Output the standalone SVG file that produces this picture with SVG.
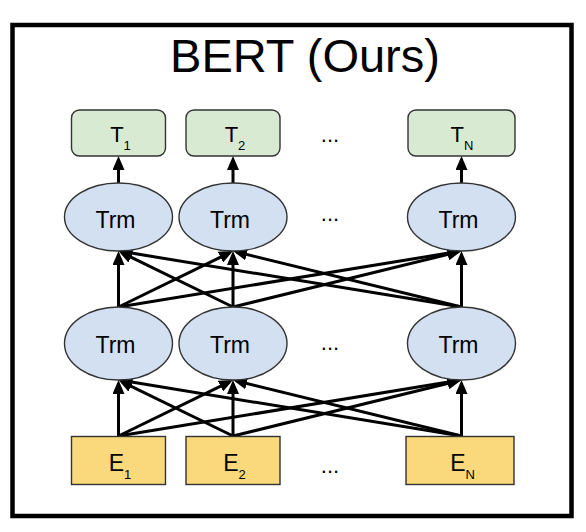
<svg xmlns="http://www.w3.org/2000/svg" width="586" height="532" viewBox="0 0 586 532">
<style>
text{font-family:"Liberation Sans",Arial,sans-serif;fill:#000}
.tbox{fill:#d9ead3;stroke:#333;stroke-width:1.4}
.ebox{fill:#f9d97b;stroke:#333;stroke-width:1.4}
.trm{fill:#d3e0f1;stroke:#333;stroke-width:1.4}
.lbl{font-size:23px;text-anchor:middle}
.tlbl{font-size:22px;text-anchor:middle}
.elbl{font-size:23px;text-anchor:middle}
.dots{font-size:22px;text-anchor:middle}
.c line{stroke:#000;stroke-width:3;marker-end:url(#ah)}
</style>
<defs>
<marker id="ah" viewBox="0 0 14 12" refX="10" refY="6" markerWidth="14" markerHeight="12" markerUnits="userSpaceOnUse" orient="auto">
<path d="M0,0 L14,6 L0,12 z" fill="#000"/>
</marker>
</defs>
<rect x="0" y="0" width="586" height="532" fill="#fff"/>
<rect id="frame" x="12.5" y="25" width="559" height="491" fill="#fff" stroke="#000" stroke-width="4.5"/>
<text id="title" x="305" y="72" font-size="47" text-anchor="middle">BERT (Ours)</text>

<g class="c" id="connectors">
<line x1="118.5" y1="436" x2="118.5" y2="384"/>
<line x1="118.5" y1="436" x2="229.4" y2="381.8"/>
<line x1="118.5" y1="436" x2="457.55" y2="380.6"/>
<line x1="233" y1="436" x2="122.1" y2="381.8"/>
<line x1="233" y1="436" x2="233" y2="384"/>
<line x1="233" y1="436" x2="457.6" y2="381"/>
<line x1="461.5" y1="436" x2="122.45" y2="380.6"/>
<line x1="461.5" y1="436" x2="236.9" y2="381"/>
<line x1="461.5" y1="436" x2="461.5" y2="384"/>
<line x1="118.5" y1="307" x2="118.5" y2="255"/>
<line x1="118.5" y1="307" x2="229.4" y2="252.8"/>
<line x1="118.5" y1="307" x2="457.55" y2="251.6"/>
<line x1="233" y1="307" x2="122.1" y2="252.8"/>
<line x1="233" y1="307" x2="233" y2="255"/>
<line x1="233" y1="307" x2="457.6" y2="252"/>
<line x1="461.5" y1="307" x2="122.45" y2="251.6"/>
<line x1="461.5" y1="307" x2="236.9" y2="252"/>
<line x1="461.5" y1="307" x2="461.5" y2="255"/>
<line x1="118.5" y1="183" x2="118.5" y2="160"/>
<line x1="233" y1="183" x2="233" y2="160"/>
<line x1="461.5" y1="183" x2="461.5" y2="160"/>
</g>

<g id="T1"><rect class="tbox" x="71.5" y="110" width="94" height="46" rx="8"/><text class="tlbl" x="120.5" y="142">T<tspan font-size="13" dy="7.5">1</tspan></text></g>
<g id="T2"><rect class="tbox" x="186" y="110" width="94" height="46" rx="8"/><text class="tlbl" x="235" y="142">T<tspan font-size="13" dy="7.5">2</tspan></text></g>
<g id="TN"><rect class="tbox" x="408" y="110" width="107" height="46" rx="8"/><text class="tlbl" x="462" y="142">T<tspan font-size="13" dy="7.5">N</tspan></text></g>

<g id="TrmU1"><ellipse class="trm" cx="118.5" cy="217" rx="54" ry="34"/><text class="lbl" x="115.5" y="227.5">Trm</text></g>
<g id="TrmU2"><ellipse class="trm" cx="233" cy="217" rx="54" ry="34"/><text class="lbl" x="230" y="227.5">Trm</text></g>
<g id="TrmUN"><ellipse class="trm" cx="461.5" cy="217" rx="54" ry="34"/><text class="lbl" x="458.5" y="227.5">Trm</text></g>

<g id="TrmL1"><ellipse class="trm" cx="118.5" cy="343.5" rx="54" ry="36.5"/><text class="lbl" x="115.5" y="353">Trm</text></g>
<g id="TrmL2"><ellipse class="trm" cx="233" cy="343.5" rx="54" ry="36.5"/><text class="lbl" x="230" y="353">Trm</text></g>
<g id="TrmLN"><ellipse class="trm" cx="461.5" cy="343.5" rx="54" ry="36.5"/><text class="lbl" x="458.5" y="353">Trm</text></g>

<g id="E1"><rect class="ebox" x="71.5" y="436.5" width="94" height="48"/><text class="elbl" x="120" y="470.5">E<tspan font-size="13" dy="8">1</tspan></text></g>
<g id="E2"><rect class="ebox" x="186" y="436.5" width="94" height="48"/><text class="elbl" x="234.5" y="470.5">E<tspan font-size="13" dy="8">2</tspan></text></g>
<g id="EN"><rect class="ebox" x="406" y="436.5" width="108" height="48"/><text class="elbl" x="462.5" y="470.5">E<tspan font-size="13" dy="8">N</tspan></text></g>

<g id="dots">
<text class="dots" x="330" y="142">...</text>
<text class="dots" x="330" y="221">...</text>
<text class="dots" x="330" y="350">...</text>
<text class="dots" x="330" y="473">...</text>
</g>
</svg>
